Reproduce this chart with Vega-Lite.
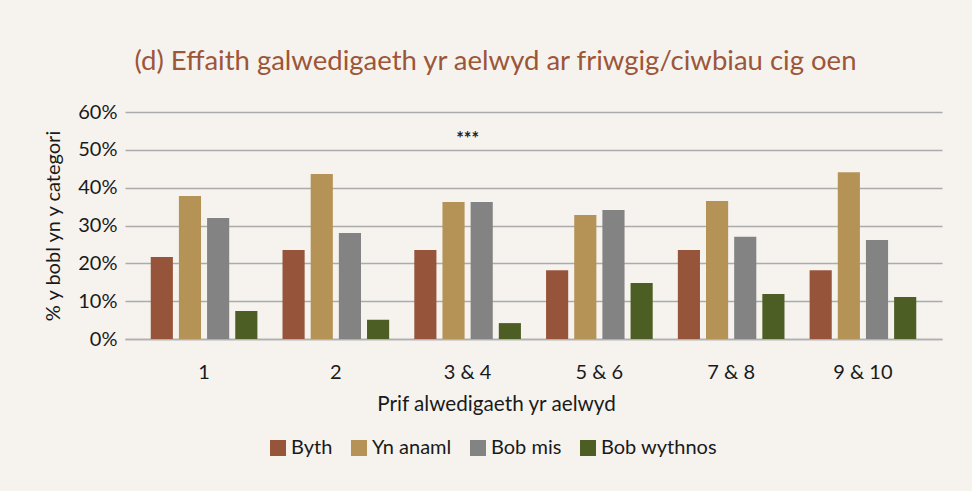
{
  "$schema": "https://vega.github.io/schema/vega-lite/v6.json",
  "autosize": {"type": "none"},
  "width": 817,
  "height": 227,
  "padding": {"left": 125, "top": 112, "right": 30, "bottom": 152},
  "background": "#f6f3ef",
  "title": {
    "text": "(d) Effaith galwedigaeth yr aelwyd ar friwgig/ciwbiau cig oen",
    "font": "Lato",
    "fontSize": 27.5,
    "fontWeight": "normal",
    "color": "#9c5638",
    "anchor": "middle",
    "frame": "group",
    "dx": -38,
    "offset": 27
  },
  "datasets": {
    "bars": [
      {"grp": "1", "freq": "Byth", "share": 0.217},
      {"grp": "1", "freq": "Yn anaml", "share": 0.378},
      {"grp": "1", "freq": "Bob mis", "share": 0.320},
      {"grp": "1", "freq": "Bob wythnos", "share": 0.074},
      {"grp": "2", "freq": "Byth", "share": 0.235},
      {"grp": "2", "freq": "Yn anaml", "share": 0.436},
      {"grp": "2", "freq": "Bob mis", "share": 0.280},
      {"grp": "2", "freq": "Bob wythnos", "share": 0.051},
      {"grp": "3 & 4", "freq": "Byth", "share": 0.235},
      {"grp": "3 & 4", "freq": "Yn anaml", "share": 0.362},
      {"grp": "3 & 4", "freq": "Bob mis", "share": 0.362},
      {"grp": "3 & 4", "freq": "Bob wythnos", "share": 0.042},
      {"grp": "5 & 6", "freq": "Byth", "share": 0.182},
      {"grp": "5 & 6", "freq": "Yn anaml", "share": 0.328},
      {"grp": "5 & 6", "freq": "Bob mis", "share": 0.341},
      {"grp": "5 & 6", "freq": "Bob wythnos", "share": 0.148},
      {"grp": "7 & 8", "freq": "Byth", "share": 0.235},
      {"grp": "7 & 8", "freq": "Yn anaml", "share": 0.365},
      {"grp": "7 & 8", "freq": "Bob mis", "share": 0.270},
      {"grp": "7 & 8", "freq": "Bob wythnos", "share": 0.119},
      {"grp": "9 & 10", "freq": "Byth", "share": 0.182},
      {"grp": "9 & 10", "freq": "Yn anaml", "share": 0.441},
      {"grp": "9 & 10", "freq": "Bob mis", "share": 0.262},
      {"grp": "9 & 10", "freq": "Bob wythnos", "share": 0.111}
    ],
    "notes": [
      {"grp": "3 & 4", "share": 0.534, "label": "***"}
    ]
  },
  "encoding": {
    "x": {
      "field": "grp",
      "type": "nominal",
      "sort": ["1", "2", "3 & 4", "5 & 6", "7 & 8", "9 & 10"],
      "scale": {"paddingInner": 0, "paddingOuter": 0.1},
      "axis": {
        "title": "Prif alwedigaeth yr aelwyd",
        "labelAngle": 0,
        "labelFont": "Lato",
        "labelFontSize": 20,
        "labelColor": "#1a1a1a",
        "labelPadding": 23,
        "ticks": false,
        "domainColor": "#b0b0b0",
        "domainWidth": 1.5,
        "titleFont": "Lato",
        "titleFontSize": 20.7,
        "titleFontWeight": "normal",
        "titleColor": "#1a1a1a",
        "titlePadding": 12,
        "titleX": 371
      }
    },
    "y": {
      "field": "share",
      "type": "quantitative",
      "scale": {"domain": [0, 0.6], "nice": false},
      "axis": {
        "title": "% y bobl yn y categori",
        "format": ".0%",
        "values": [0, 0.1, 0.2, 0.3, 0.4, 0.5, 0.6],
        "tickCount": 7,
        "labelOverlap": false,
        "labelFont": "Lato",
        "labelFontSize": 20,
        "labelColor": "#1a1a1a",
        "labelPadding": 8,
        "ticks": false,
        "domain": false,
        "gridColor": "#ababab",
        "gridWidth": 1.5,
        "titleFont": "Lato",
        "titleFontSize": 20,
        "titleFontWeight": "normal",
        "titleColor": "#1a1a1a",
        "titlePadding": 14
      }
    }
  },
  "layer": [
    {
      "data": {"name": "bars"},
      "mark": {"type": "bar"},
      "encoding": {
        "xOffset": {
          "field": "freq",
          "type": "nominal",
          "sort": ["Byth", "Yn anaml", "Bob mis", "Bob wythnos"],
          "scale": {"paddingInner": 0.214, "paddingOuter": 0.446}
        },
        "color": {
          "field": "freq",
          "type": "nominal",
          "scale": {
            "domain": ["Byth", "Yn anaml", "Bob mis", "Bob wythnos"],
            "range": ["#96553a", "#b59256", "#838383", "#4c5e24"]
          },
          "legend": {
            "title": null,
            "orient": "none",
            "direction": "horizontal",
            "legendX": 143,
            "legendY": 326,
            "symbolType": "square",
            "symbolSize": 256,
            "symbolStrokeWidth": 0,
            "symbolOpacity": 1,
            "labelFont": "Lato",
            "labelFontSize": 20,
            "labelColor": "#1a1a1a",
            "labelOffset": 3,
            "columnPadding": 16,
            "padding": 0
          }
        }
      }
    },
    {
      "data": {"name": "notes"},
      "mark": {"type": "text", "font": "Lato", "fontSize": 18, "fontWeight": "bold", "color": "#222222", "baseline": "middle", "dy": 3},
      "encoding": {
        "text": {"field": "label"}
      }
    }
  ],
  "config": {
    "view": {"stroke": null}
  }
}
